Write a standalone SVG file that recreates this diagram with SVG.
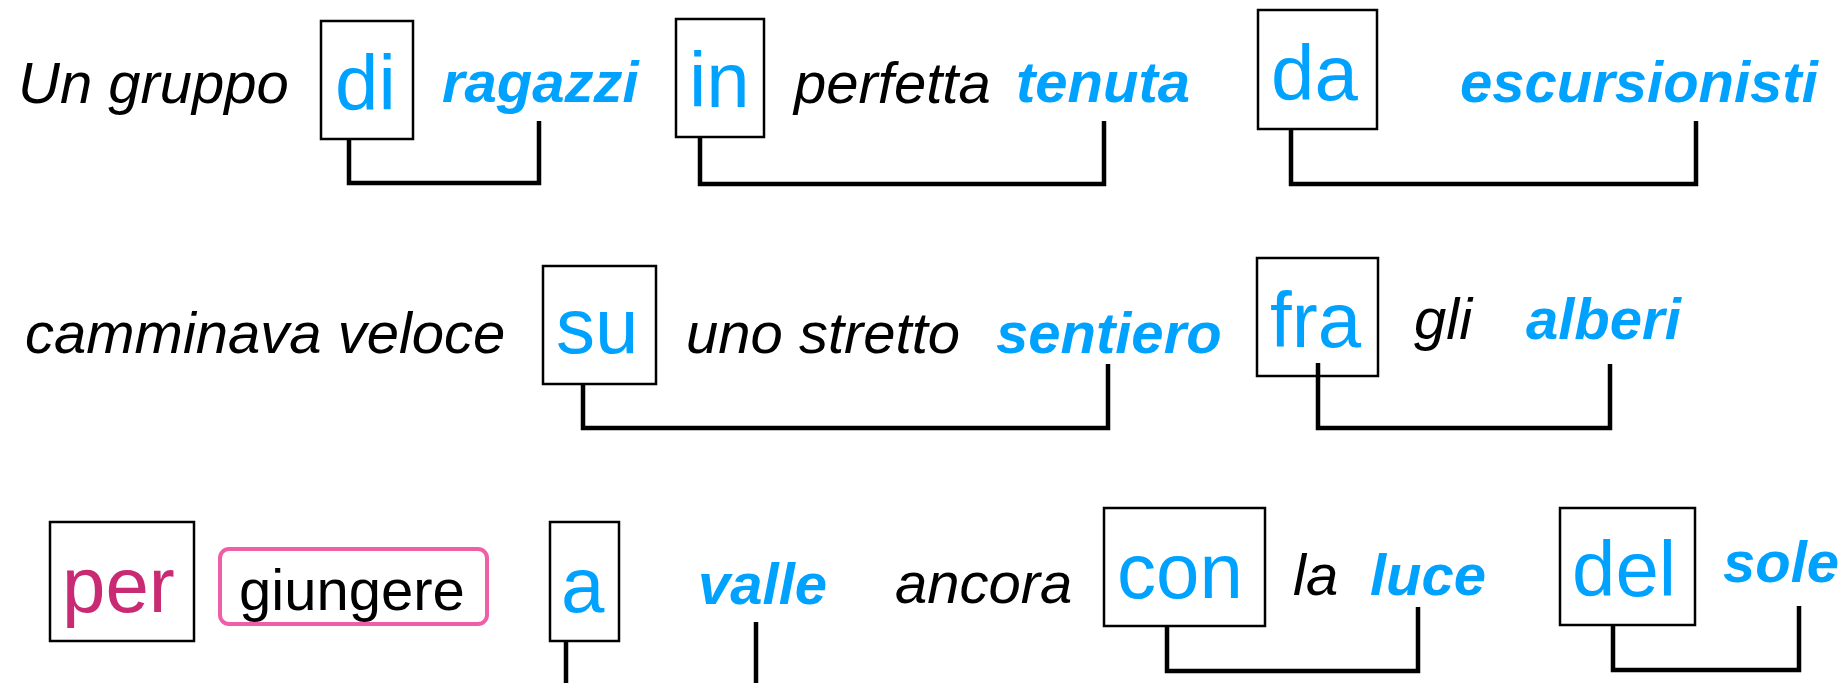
<svg xmlns="http://www.w3.org/2000/svg" width="1844" height="683" viewBox="0 0 1844 683">
<style>
text{font-family:"Liberation Sans",Arial,Helvetica,sans-serif}
.w{font-size:58px;font-style:italic;fill:#000}
.k{font-size:58px;font-style:italic;font-weight:bold;fill:#00A2FF}
.p{font-size:78px;fill:#00A2FF}
.pm{font-size:78px;fill:#C92A74}
.g{font-size:58px;fill:#000}
.box{fill:none;stroke:#000;stroke-width:2.5}
.pill{fill:none;stroke:#EE5FA7;stroke-width:4}
.conn path{fill:none;stroke:#000;stroke-width:4.5;stroke-linejoin:miter}
</style>
<rect width="1844" height="683" fill="#fff"/>
<g id="row1">
<g id="w-un-gruppo"><text class="w" x="18" y="103">Un gruppo</text></g>
<g id="n-di"><rect class="box" x="321" y="21" width="92" height="118"/><text class="p" x="335" y="110">di</text></g>
<g id="w-ragazzi"><text class="k" x="442" y="102">ragazzi</text></g>
<g id="n-in"><rect class="box" x="676" y="19" width="88" height="118"/><text class="p" x="689" y="107">in</text></g>
<g id="w-perfetta"><text class="w" x="794" y="103">perfetta</text></g>
<g id="w-tenuta"><text class="k" x="1016" y="102">tenuta</text></g>
<g id="n-da"><rect class="box" x="1258" y="10" width="119" height="119"/><text class="p" x="1271" y="100">da</text></g>
<g id="w-escursionisti"><text class="k" x="1460" y="102">escursionisti</text></g>
</g>
<g id="row2">
<g id="w-camminava"><text class="w" x="25" y="353">camminava veloce</text></g>
<g id="n-su"><rect class="box" x="543" y="266" width="113" height="118"/><text class="p" x="556" y="353">su</text></g>
<g id="w-uno-stretto"><text class="w" x="686" y="353">uno stretto</text></g>
<g id="w-sentiero"><text class="k" x="996" y="353">sentiero</text></g>
<g id="n-fra"><rect class="box" x="1257" y="258" width="121" height="118"/><text class="p" x="1270" y="347">fra</text></g>
<g id="w-gli"><text class="w" x="1414" y="339">gli</text></g>
<g id="w-alberi"><text class="k" x="1526" y="339">alberi</text></g>
</g>
<g id="row3">
<g id="n-per"><rect class="box" x="50" y="522" width="144" height="119"/><text class="pm" x="62" y="612">per</text></g>
<g id="n-giungere"><rect class="pill" x="220" y="549" width="267" height="75" rx="9"/><text class="g" x="239" y="610">giungere</text></g>
<g id="n-a"><rect class="box" x="550" y="522" width="69" height="119"/><text class="p" x="561" y="612">a</text></g>
<g id="w-valle"><text class="k" x="698" y="604">valle</text></g>
<g id="w-ancora"><text class="w" x="895" y="603">ancora</text></g>
<g id="n-con"><rect class="box" x="1104" y="508" width="161" height="118"/><text class="p" x="1117" y="598">con</text></g>
<g id="w-la"><text class="w" x="1293" y="595">la</text></g>
<g id="w-luce"><text class="k" x="1370" y="595">luce</text></g>
<g id="n-del"><rect class="box" x="1560" y="508" width="135" height="117"/><text class="p" x="1572" y="596">del</text></g>
<g id="w-sole"><text class="k" x="1723" y="582">sole</text></g>
</g>
<g id="connectors" class="conn">
<path d="M349,139 V183 H539 V121"/>
<path d="M700,137 V184 H1104 V121"/>
<path d="M1291,129 V184 H1696 V121"/>
<path d="M583,384 V428 H1108 V364"/>
<path d="M1318,363 V428 H1610 V364"/>
<path d="M566,641 V700 H756 V622"/>
<path d="M1167,626 V671 H1418 V607"/>
<path d="M1613,625 V670 H1799 V606"/>
</g>
</svg>
